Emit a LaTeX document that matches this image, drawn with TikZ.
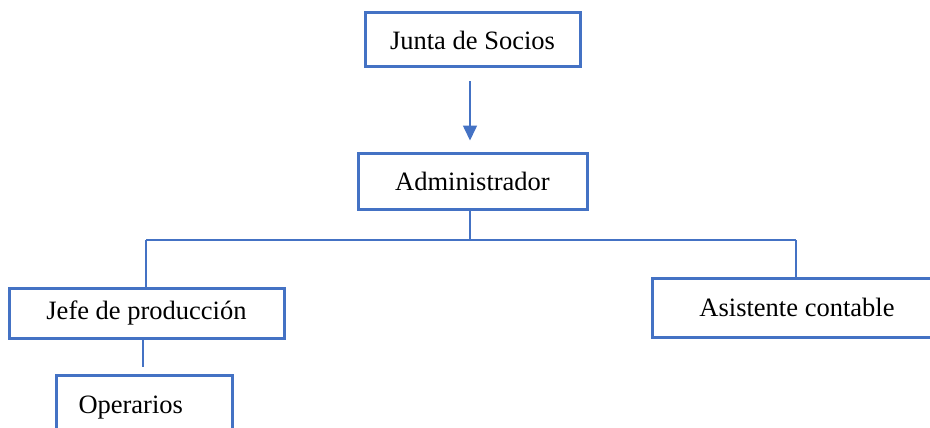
\documentclass[tikz,border=0pt]{standalone}
\usepackage{fontspec}
\setmainfont{Liberation Serif}
\usetikzlibrary{arrows.meta}
\definecolor{boxblue}{HTML}{4472C4}
\tikzset{
  orgbox/.style={draw=boxblue, line width=3pt, fill=white, inner sep=0pt,
    font=\fontsize{26.5}{30}\selectfont, text=black},
  conn/.style={draw=boxblue, line width=1.4pt},
  arrowconn/.style={draw=boxblue, line width=1.6pt, -{Triangle[length=15pt,width=14pt]}}
}
\begin{document}
\begin{tikzpicture}[x=1pt,y=-1pt]
\useasboundingbox (0,0) rectangle (930,428);
\clip (0,0) rectangle (930,428);
\fill[white] (0,0) rectangle (930,428);
% boxes
\node[orgbox, minimum width=215pt, minimum height=54pt] (junta) at (472.5,40) {Junta de Socios};
\node[orgbox, minimum width=229pt, minimum height=56pt] (admin) at (472.5,181) {Administrador};
\node[orgbox, minimum width=275pt, minimum height=50pt] (jefe) at (146.5,313) {Jefe de producción};
\node[orgbox, minimum width=290pt, minimum height=59pt] (asis) at (797,307.5) {Asistente contable};
\node[orgbox, minimum width=176pt, minimum height=64pt, anchor=north west,
      text width=132pt, align=left, inner xsep=22pt] (oper) at (55,374) {Operarios};
% connectors
\coordinate (busL) at (146,240);
\coordinate (busM) at (470,240);
\coordinate (busR) at (796,240);
\coordinate (jefeend) at (143,367);
\draw[arrowconn, shorten <=13pt, shorten >=11pt] (junta.south -| busM) -- (admin.north -| busM);
\draw[conn] (admin.south -| busM) -- (busM);
\draw[conn] (busL) -- (busR);
\draw[conn] (busL) -- (busL |- jefe.north);
\draw[conn] (busR) -- (busR |- asis.north);
\draw[conn] (jefe.south -| jefeend) -- (jefeend);
\end{tikzpicture}
\end{document}
